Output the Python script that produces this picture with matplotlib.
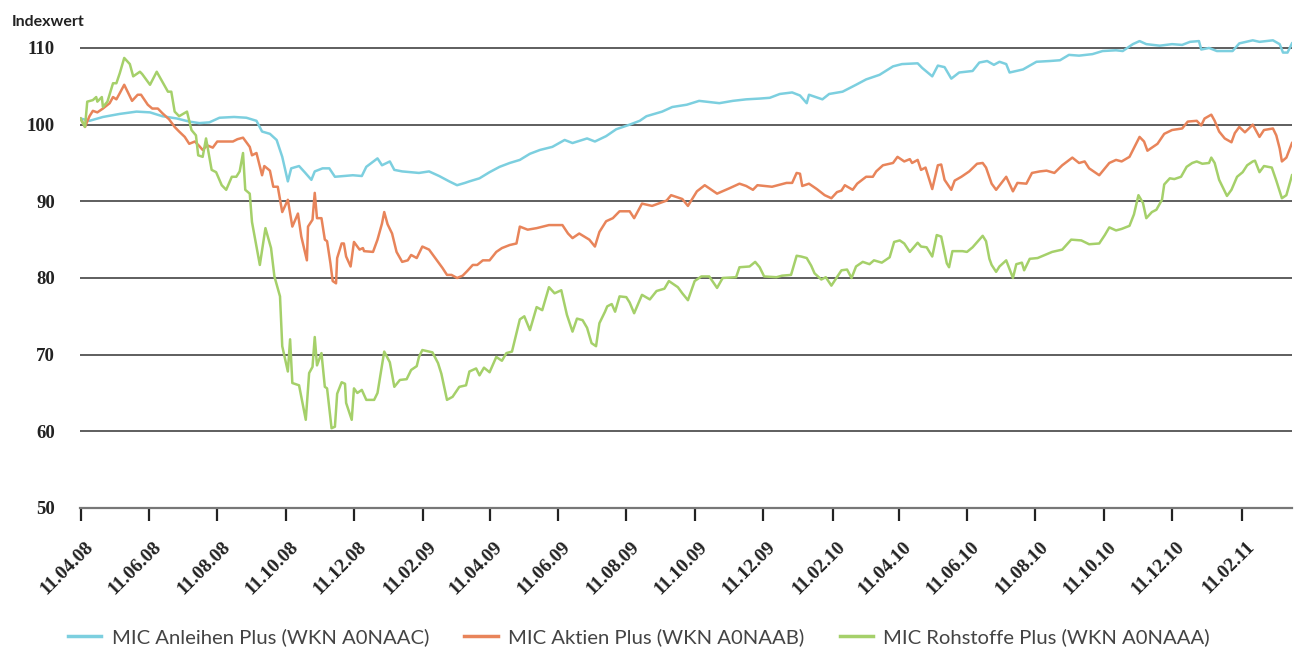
import numpy as np
import pandas as pd
import matplotlib
matplotlib.use("Agg")
import matplotlib.pyplot as plt
import matplotlib.dates as mdates
import matplotlib.transforms as mtransforms

# Tage seit dem 11.04.08 und Indexwerte
start = pd.Timestamp("2008-04-11")

anl_tage = [0, 8, 20, 35, 50, 62, 73, 86, 97, 106, 115, 124, 137, 148, 157, 162, 169, 175, 180, 185,
            188, 195, 200, 206, 209, 216, 222, 227, 243, 251, 255, 265, 269, 276, 280, 287, 302, 311, 320, 329,
            336, 343, 347, 356, 365, 374, 383, 392, 401, 410, 421, 432, 439, 452, 459, 469, 478, 490, 499, 505,
            519, 528, 541, 552, 570, 582, 594, 606, 615, 624, 635, 642, 648, 650, 662, 668, 680, 692, 701, 713,
            725, 733, 747, 751, 760, 765, 771, 777, 784, 796, 802, 809, 815, 820, 826, 829, 841, 853, 865, 874,
            882, 891, 903, 912, 924, 930, 939, 945, 951, 963, 974, 983, 990, 998, 1000, 1007, 1014, 1028, 1034, 1046,
            1052, 1064, 1070, 1073, 1077, 1081]
anl_werte = [100.8, 100.5, 101.0, 101.4, 101.7, 101.6, 101.1, 100.8, 100.4, 100.2, 100.3, 100.9, 101.0, 100.9, 100.5, 99.1, 98.8, 98.0, 95.8, 92.6,
             94.3, 94.6, 93.8, 92.8, 93.9, 94.3, 94.3, 93.2, 93.4, 93.3, 94.5, 95.6, 94.7, 95.2, 94.1, 93.9, 93.7, 93.9, 93.3, 92.6,
             92.1, 92.4, 92.6, 93.0, 93.8, 94.5, 95.0, 95.4, 96.2, 96.7, 97.1, 98.0, 97.6, 98.2, 97.8, 98.5, 99.4, 100.0, 100.5, 101.1,
             101.7, 102.3, 102.6, 103.1, 102.8, 103.1, 103.3, 103.4, 103.5, 104.0, 104.2, 103.8, 102.8, 103.9, 103.3, 104.0, 104.3, 105.2, 105.9, 106.5,
             107.6, 107.9, 108.0, 107.4, 106.3, 107.7, 107.5, 106.0, 106.8, 107.0, 108.1, 108.3, 107.8, 108.2, 107.9, 106.8, 107.2, 108.2, 108.3, 108.4,
             109.1, 109.0, 109.2, 109.6, 109.7, 109.6, 110.5, 110.9, 110.5, 110.3, 110.5, 110.4, 110.8, 110.9, 109.8, 110.0, 109.6, 109.6, 110.6, 111.0,
             110.8, 111.0, 110.5, 109.4, 109.4, 110.6]

akt_tage = [0, 4, 8, 11, 15, 20, 26, 29, 32, 35, 39, 42, 46, 51, 54, 60, 64, 69, 73, 79,
            84, 88, 93, 97, 102, 106, 109, 113, 118, 122, 130, 136, 140, 145, 151, 153, 157, 162, 164, 169,
            172, 176, 180, 185, 189, 194, 197, 202, 203, 207, 209, 211, 215, 218, 220, 223, 225, 228, 229, 233,
            235, 237, 241, 244, 249, 252, 253, 261, 265, 269, 271, 274, 278, 282, 287, 292, 295, 300, 305, 311,
            318, 323, 327, 331, 336, 341, 345, 350, 354, 359, 365, 371, 376, 383, 389, 392, 399, 407, 418, 430,
            435, 439, 445, 454, 459, 463, 469, 475, 481, 490, 494, 501, 510, 523, 527, 537, 542, 550, 557, 568,
            579, 588, 594, 600, 604, 617, 630, 635, 639, 642, 644, 650, 657, 664, 670, 675, 679, 682, 689, 693,
            701, 707, 710, 716, 725, 729, 735, 740, 742, 747, 750, 754, 760, 765, 768, 771, 777, 780, 786, 793,
            800, 805, 808, 813, 817, 826, 832, 836, 844, 849, 856, 862, 869, 876, 885, 891, 896, 900, 909, 918,
            924, 929, 936, 945, 949, 952, 957, 961, 967, 974, 983, 988, 996, 1000, 1003, 1009, 1012, 1016, 1021, 1027,
            1030, 1034, 1039, 1046, 1052, 1056, 1064, 1067, 1070, 1072, 1076, 1081]
akt_werte = [100.8, 99.7, 101.1, 101.8, 101.6, 102.1, 102.8, 103.6, 103.3, 104.1, 105.2, 104.3, 103.1, 103.9, 103.9, 102.6, 102.1, 102.1, 101.5, 100.7,
             99.7, 99.1, 98.4, 97.5, 97.8, 97.2, 96.7, 97.3, 97.0, 97.8, 97.8, 97.8, 98.1, 98.3, 97.1, 96.0, 96.3, 93.4, 94.6, 94.0,
             91.9, 91.9, 88.6, 90.2, 86.7, 88.4, 85.4, 82.3, 86.7, 87.6, 91.1, 87.8, 87.8, 85.0, 84.8, 81.9, 79.6, 79.3, 82.6, 84.5,
             84.5, 82.8, 81.5, 84.7, 83.7, 83.9, 83.5, 83.4, 85.0, 87.1, 88.6, 87.0, 85.8, 83.4, 82.1, 82.3, 83.0, 82.6, 84.1, 83.7,
             82.3, 81.3, 80.4, 80.4, 80.0, 80.3, 80.9, 81.7, 81.7, 82.3, 82.3, 83.4, 83.9, 84.3, 84.5, 86.7, 86.3, 86.5, 86.9, 86.9,
             85.8, 85.2, 85.8, 85.0, 84.1, 86.0, 87.4, 87.8, 88.7, 88.7, 87.8, 89.7, 89.4, 90.1, 90.8, 90.3, 89.4, 91.3, 92.1, 91.0,
             91.7, 92.3, 92.0, 91.5, 92.1, 91.9, 92.4, 92.4, 93.7, 93.6, 92.0, 92.3, 91.6, 90.8, 90.4, 91.2, 91.4, 92.1, 91.5, 92.3,
             93.2, 93.2, 93.9, 94.7, 95.0, 95.8, 95.2, 95.5, 95.0, 95.4, 94.1, 94.4, 91.6, 94.7, 94.8, 92.8, 91.5, 92.7, 93.2, 93.9,
             94.9, 95.0, 94.4, 92.3, 91.5, 93.2, 91.3, 92.4, 92.3, 93.7, 93.9, 94.0, 93.7, 94.7, 95.7, 95.0, 95.2, 94.3, 93.4, 95.0,
             95.4, 95.2, 95.8, 98.4, 97.8, 96.6, 97.1, 97.5, 98.8, 99.3, 99.5, 100.4, 100.5, 99.9, 100.8, 101.3, 100.5, 99.1, 98.2, 97.7,
             98.9, 99.7, 99.0, 100.0, 98.4, 99.3, 99.5, 98.6, 96.9, 95.2, 95.7, 97.6]

roh_tage = [0, 4, 6, 11, 14, 15, 19, 20, 24, 29, 32, 35, 39, 44, 47, 53, 55, 62, 68, 73,
            78, 81, 84, 88, 95, 99, 103, 105, 109, 112, 117, 121, 126, 130, 135, 139, 142, 145, 147, 151,
            153, 160, 165, 170, 173, 178, 180, 185, 187, 189, 195, 201, 204, 207, 209, 211, 215, 218, 220, 224,
            227, 229, 233, 236, 237, 242, 244, 247, 251, 255, 262, 265, 271, 276, 280, 285, 291, 295, 300, 302,
            305, 314, 319, 322, 327, 332, 338, 344, 347, 353, 356, 360, 365, 371, 376, 380, 385, 392, 396, 401,
            407, 412, 418, 423, 429, 434, 439, 443, 448, 452, 456, 460, 463, 468, 470, 474, 477, 481, 487, 490,
            494, 501, 508, 514, 521, 525, 533, 537, 542, 548, 554, 561, 568, 573, 585, 588, 597, 602, 606, 610,
            621, 626, 634, 639, 643, 648, 652, 655, 661, 665, 670, 675, 679, 684, 688, 692, 698, 704, 708, 715,
            722, 726, 731, 735, 740, 747, 750, 755, 760, 764, 768, 773, 775, 778, 787, 791, 796, 805, 808, 811,
            813, 817, 820, 826, 832, 835, 840, 842, 847, 854, 862, 867, 876, 884, 893, 900, 909, 914, 918, 924,
            929, 936, 940, 944, 948, 951, 956, 960, 965, 967, 972, 976, 982, 987, 992, 996, 1001, 1007, 1009, 1012,
            1016, 1023, 1027, 1032, 1037, 1041, 1046, 1048, 1052, 1056, 1063, 1067, 1072, 1076, 1081]
roh_werte = [100.8, 99.7, 103.0, 103.2, 103.6, 103.0, 103.6, 102.3, 103.0, 105.4, 105.4, 106.7, 108.7, 107.9, 106.3, 106.9, 106.6, 105.2, 106.9, 105.6,
             104.3, 104.3, 101.7, 101.1, 101.7, 99.3, 98.6, 96.0, 95.8, 98.2, 94.1, 93.8, 92.1, 91.5, 93.2, 93.2, 93.9, 96.3, 91.5, 91.0,
             87.3, 81.7, 86.5, 83.9, 80.2, 77.6, 71.1, 67.8, 72.0, 66.3, 66.0, 61.5, 67.6, 68.4, 72.3, 68.6, 70.2, 65.8, 65.6, 60.4,
             60.6, 64.9, 66.4, 66.2, 63.7, 61.5, 65.6, 65.0, 65.4, 64.1, 64.1, 65.0, 70.4, 69.0, 65.8, 66.7, 66.8, 68.0, 68.5, 69.7,
             70.6, 70.3, 68.9, 67.5, 64.1, 64.5, 65.8, 66.0, 67.8, 68.2, 67.3, 68.3, 67.7, 69.7, 69.2, 70.2, 70.4, 74.6, 75.0, 73.2,
             76.2, 75.8, 78.8, 78.0, 78.4, 75.2, 73.0, 74.7, 74.5, 73.5, 71.5, 71.1, 74.1, 75.6, 76.3, 76.6, 75.6, 77.6, 77.5, 76.8,
             75.4, 77.8, 77.2, 78.3, 78.6, 79.6, 78.8, 78.0, 77.1, 79.6, 80.2, 80.2, 78.7, 80.0, 80.1, 81.4, 81.5, 82.1, 81.4, 80.2,
             80.1, 80.3, 80.4, 82.9, 82.8, 82.6, 81.6, 80.6, 79.8, 80.1, 79.0, 80.1, 81.0, 81.1, 80.0, 81.5, 82.1, 81.8, 82.3, 82.0,
             82.7, 84.7, 84.9, 84.5, 83.4, 84.6, 84.1, 84.0, 82.8, 85.6, 85.4, 81.9, 81.4, 83.5, 83.5, 83.4, 84.0, 85.5, 84.8, 82.5,
             81.7, 80.8, 81.5, 82.3, 80.0, 81.8, 82.0, 81.0, 82.5, 82.6, 83.1, 83.4, 83.7, 85.0, 84.9, 84.4, 84.5, 85.6, 86.6, 86.2,
             86.4, 86.8, 88.3, 90.8, 89.8, 87.8, 88.6, 88.9, 90.2, 92.2, 93.0, 92.9, 93.2, 94.5, 95.0, 95.2, 94.9, 95.0, 95.7, 95.0,
             92.8, 90.7, 91.5, 93.2, 93.8, 94.7, 95.2, 95.3, 93.8, 94.6, 94.4, 92.7, 90.4, 90.8, 93.4]

namen = ["MIC Anleihen Plus (WKN A0NAAC)", "MIC Aktien Plus (WKN A0NAAB)", "MIC Rohstoffe Plus (WKN A0NAAA)"]
farben = ["#7ccfdf", "#e8845a", "#a5d06a"]
y_ticks = [50, 60, 70, 80, 90, 100, 110]


def to_dates(tage):
    return start + pd.to_timedelta(np.array(tage), unit="D")


fig = plt.figure(figsize=(12.96, 6.49), dpi=100)
ax = fig.add_axes([0.0617, 0.2173, 0.9352, 0.7324])

serien = [(anl_tage, anl_werte), (akt_tage, akt_werte), (roh_tage, roh_werte)]
for (tage, werte), name, farbe in zip(serien, namen, farben):
    ax.plot(to_dates(tage), werte, color=farbe, lw=1.8, label=name, zorder=3)

for y in y_ticks[1:]:
    ax.axhline(y, color="#333333", lw=1.1, zorder=1)

ax.set_ylim(50, 112)
ax.set_xlim(start - pd.Timedelta(days=0.5), start + pd.Timedelta(days=1081))

tick_dates = pd.date_range("2008-04-01", "2011-02-01", freq="2MS") + pd.Timedelta(days=10)
ax.set_xticks(tick_dates)
ax.xaxis.set_major_formatter(mdates.DateFormatter("%d.%m.%y"))
ax.set_yticks(y_ticks)

for s in ["top", "right", "left"]:
    ax.spines[s].set_visible(False)
ax.spines["bottom"].set_color("#777777")
ax.spines["bottom"].set_linewidth(1.6)

ax.tick_params(axis="y", length=0, pad=18)
ax.tick_params(axis="x", length=9, width=1.6, color="#222222", direction="out", pad=4)

for lab in ax.get_yticklabels():
    lab.set_fontfamily("Liberation Serif")
    lab.set_fontweight("bold")
    lab.set_fontsize(13.5)
    lab.set_color("#222222")

shift = mtransforms.ScaledTranslation(10 / 100, -18 / 100, fig.dpi_scale_trans)
for lab in ax.get_xticklabels():
    lab.set_fontfamily("Liberation Serif")
    lab.set_fontweight("bold")
    lab.set_fontsize(14)
    lab.set_color("#222222")
    lab.set_rotation(45)
    lab.set_ha("right")
    lab.set_va("center")
    lab.set_rotation_mode("anchor")
    lab.set_transform(lab.get_transform() + shift)

fig.text(12 / 1296, 1 - 22 / 649, "Indexwert", fontfamily="Lato", fontweight="bold",
         fontsize=11.5, color="#222222", va="center", ha="left")

leg = fig.legend(loc="center", ncol=3, frameon=False, bbox_to_anchor=(0.493, 1 - 637 / 649),
                 prop={"family": "Lato", "size": 14.6}, handlelength=1.65, handletextpad=0.5,
                 columnspacing=1.75)
for t in leg.get_texts():
    t.set_color("#444444")
for h in leg.get_lines():
    h.set_linewidth(2.5)

fig.savefig("out.png", dpi=100)
